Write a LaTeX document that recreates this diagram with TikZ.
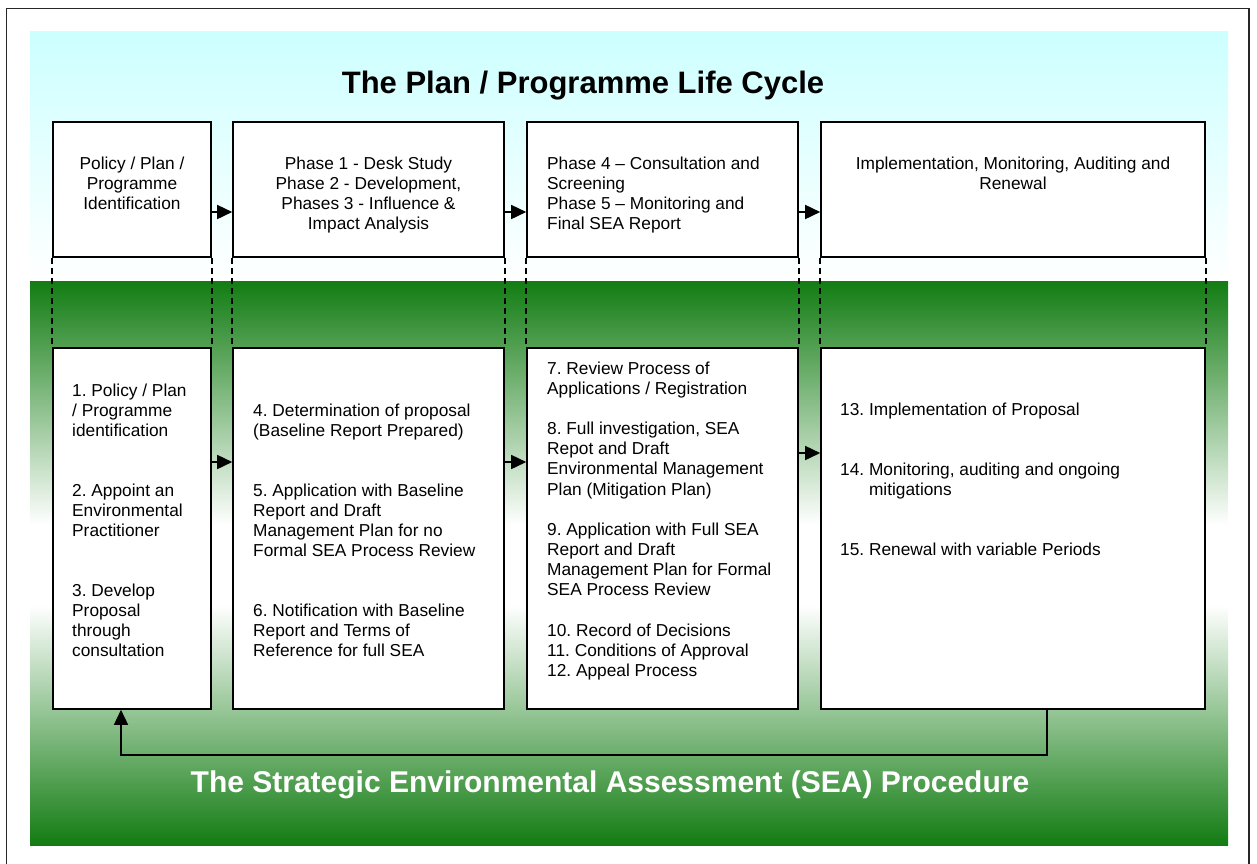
\documentclass[tikz,border=0pt]{standalone}
\usepackage{fontspec}
\setmainfont{Liberation Sans}
\frenchspacing
\usetikzlibrary{arrows.meta}
\definecolor{skyc}{RGB}{204,255,255}
\definecolor{leafc}{RGB}{18,124,18}
\begin{document}
\begin{tikzpicture}[x=1pt,y=-1pt,
  box/.style={draw=black, line width=1.6pt, fill=white, inner sep=0pt},
  upbox/.style={box, minimum height=135pt},
  lowbox/.style={box, minimum height=361pt},
  txt/.style={inner sep=0pt, font=\fontsize{17.3}{20}\selectfont},
  arr/.style={line width=1.6pt, -{Triangle[length=15pt,width=14pt]}},
  dsh/.style={line width=1.6pt, dash pattern=on 6pt off 4pt},
  title/.style={inner sep=0pt, font=\fontsize{31}{36}\selectfont\bfseries}
]
\clip (0,0) rectangle (1257,863);
% frame and backgrounds
\draw[line width=1.6pt, black!85] (6.5,8.5) rectangle (1249,900);
\shade[top color=skyc, bottom color=white] (30,31) rectangle (1228,281);
\shade[top color=leafc, bottom color=white] (30,281) rectangle (1228,525);
\fill[white] (30,524.5) rectangle (1228,605.5);
\shade[top color=white, bottom color=leafc] (30,605) rectangle (1228,845);

% titles
\node[title, anchor=base] (t1) at (583,93) {The Plan / Programme Life Cycle};
\node[title, anchor=base, text=white, font=\fontsize{30}{36}\selectfont\bfseries] (t2) at (610,792)
  {The Strategic Environmental Assessment (SEA) Procedure};

% upper boxes
\node[upbox, minimum width=158pt] (u1) at (132,189.5) {};
\node[upbox, minimum width=271pt] (u2) at (368.5,189.5) {};
\node[upbox, minimum width=271pt] (u3) at (662.5,189.5) {};
\node[upbox, minimum width=384pt] (u4) at (1013,189.5) {};

% lower boxes
\node[lowbox, minimum width=158pt] (l1) at (132,528.5) {};
\node[lowbox, minimum width=271pt] (l2) at (368.5,528.5) {};
\node[lowbox, minimum width=271pt] (l3) at (662.5,528.5) {};
\node[lowbox, minimum width=384pt] (l4) at (1013,528.5) {};

% dashed links
\foreach \b in {1,2,3,4}{
  \draw[dsh] (u\b.south west) -- (l\b.north west);
  \draw[dsh] (u\b.south east) -- (l\b.north east);
}

% upper texts
\node[txt, anchor=north, align=center] (ut1) at (132,155)
  {\rule{0pt}{14pt}Policy / Plan /\\Programme\\Identification};
\node[txt, anchor=north, align=center] (ut2) at (368.5,155)
  {\rule{0pt}{14pt}Phase 1 - Desk Study\\Phase 2 - Development,\\Phases 3 - Influence \&\\Impact Analysis};
\node[txt, anchor=north west, align=left] (ut3) at (547,155)
  {\rule{0pt}{14pt}Phase 4 -- Consultation and\\Screening\\Phase 5 -- Monitoring and\\Final SEA Report};
\node[txt, anchor=north, align=center] (ut4) at (1013,155)
  {\rule{0pt}{14pt}Implementation, Monitoring, Auditing and\\Renewal};

% lower texts
\node[txt, anchor=north west, align=left] (lt1) at (72,382)
  {\rule{0pt}{14pt}1. Policy / Plan\\/ Programme\\identification\\[40pt]
   2. Appoint an\\Environmental\\Practitioner\\[40pt]
   3. Develop\\Proposal\\through\\consultation};
\node[txt, anchor=north west, align=left] (lt2) at (253,402)
  {\rule{0pt}{14pt}4. Determination of proposal\\(Baseline Report Prepared)\\[40pt]
   5. Application with Baseline\\Report and Draft\\Management Plan for no\\Formal SEA Process Review\\[40pt]
   6. Notification with Baseline\\Report and Terms of\\Reference for full SEA};
\node[txt, anchor=north west, align=left, font=\fontsize{17.3}{20.15}\selectfont] (lt3) at (547,360)
  {\rule{0pt}{14pt}7. Review Process of\\Applications / Registration\\[20.15pt]
   8. Full investigation, SEA\\Repot and Draft\\Environmental Management\\Plan (Mitigation Plan)\\[20.15pt]
   9. Application with Full SEA\\Report and Draft\\Management Plan for Formal\\SEA Process Review\\[20.15pt]
   10. Record of Decisions\\11. Conditions of Approval\\12. Appeal Process};
\node[txt, anchor=north west, align=left] (lt4) at (840,401)
  {\rule{0pt}{14pt}13. Implementation of Proposal\\[40pt]
   14. Monitoring, auditing and ongoing\\\phantom{14. }mitigations\\[40pt]
   15. Renewal with variable Periods};

% arrows
\draw[arr] (u1.east |- 0,212) -- (u2.west |- 0,212);
\draw[arr] (u2.east |- 0,212) -- (u3.west |- 0,212);
\draw[arr] (u3.east |- 0,212) -- (u4.west |- 0,212);
\draw[arr] (l1.east |- 0,462) -- (l2.west |- 0,462);
\draw[arr] (l2.east |- 0,462) -- (l3.west |- 0,462);
\draw[arr] (l3.east |- 0,453) -- (l4.west |- 0,453);
\draw[arr] (l4.south -| 1047,0) -- ++(0,45) -| (l1.south -| 121,0);
\end{tikzpicture}
\end{document}
